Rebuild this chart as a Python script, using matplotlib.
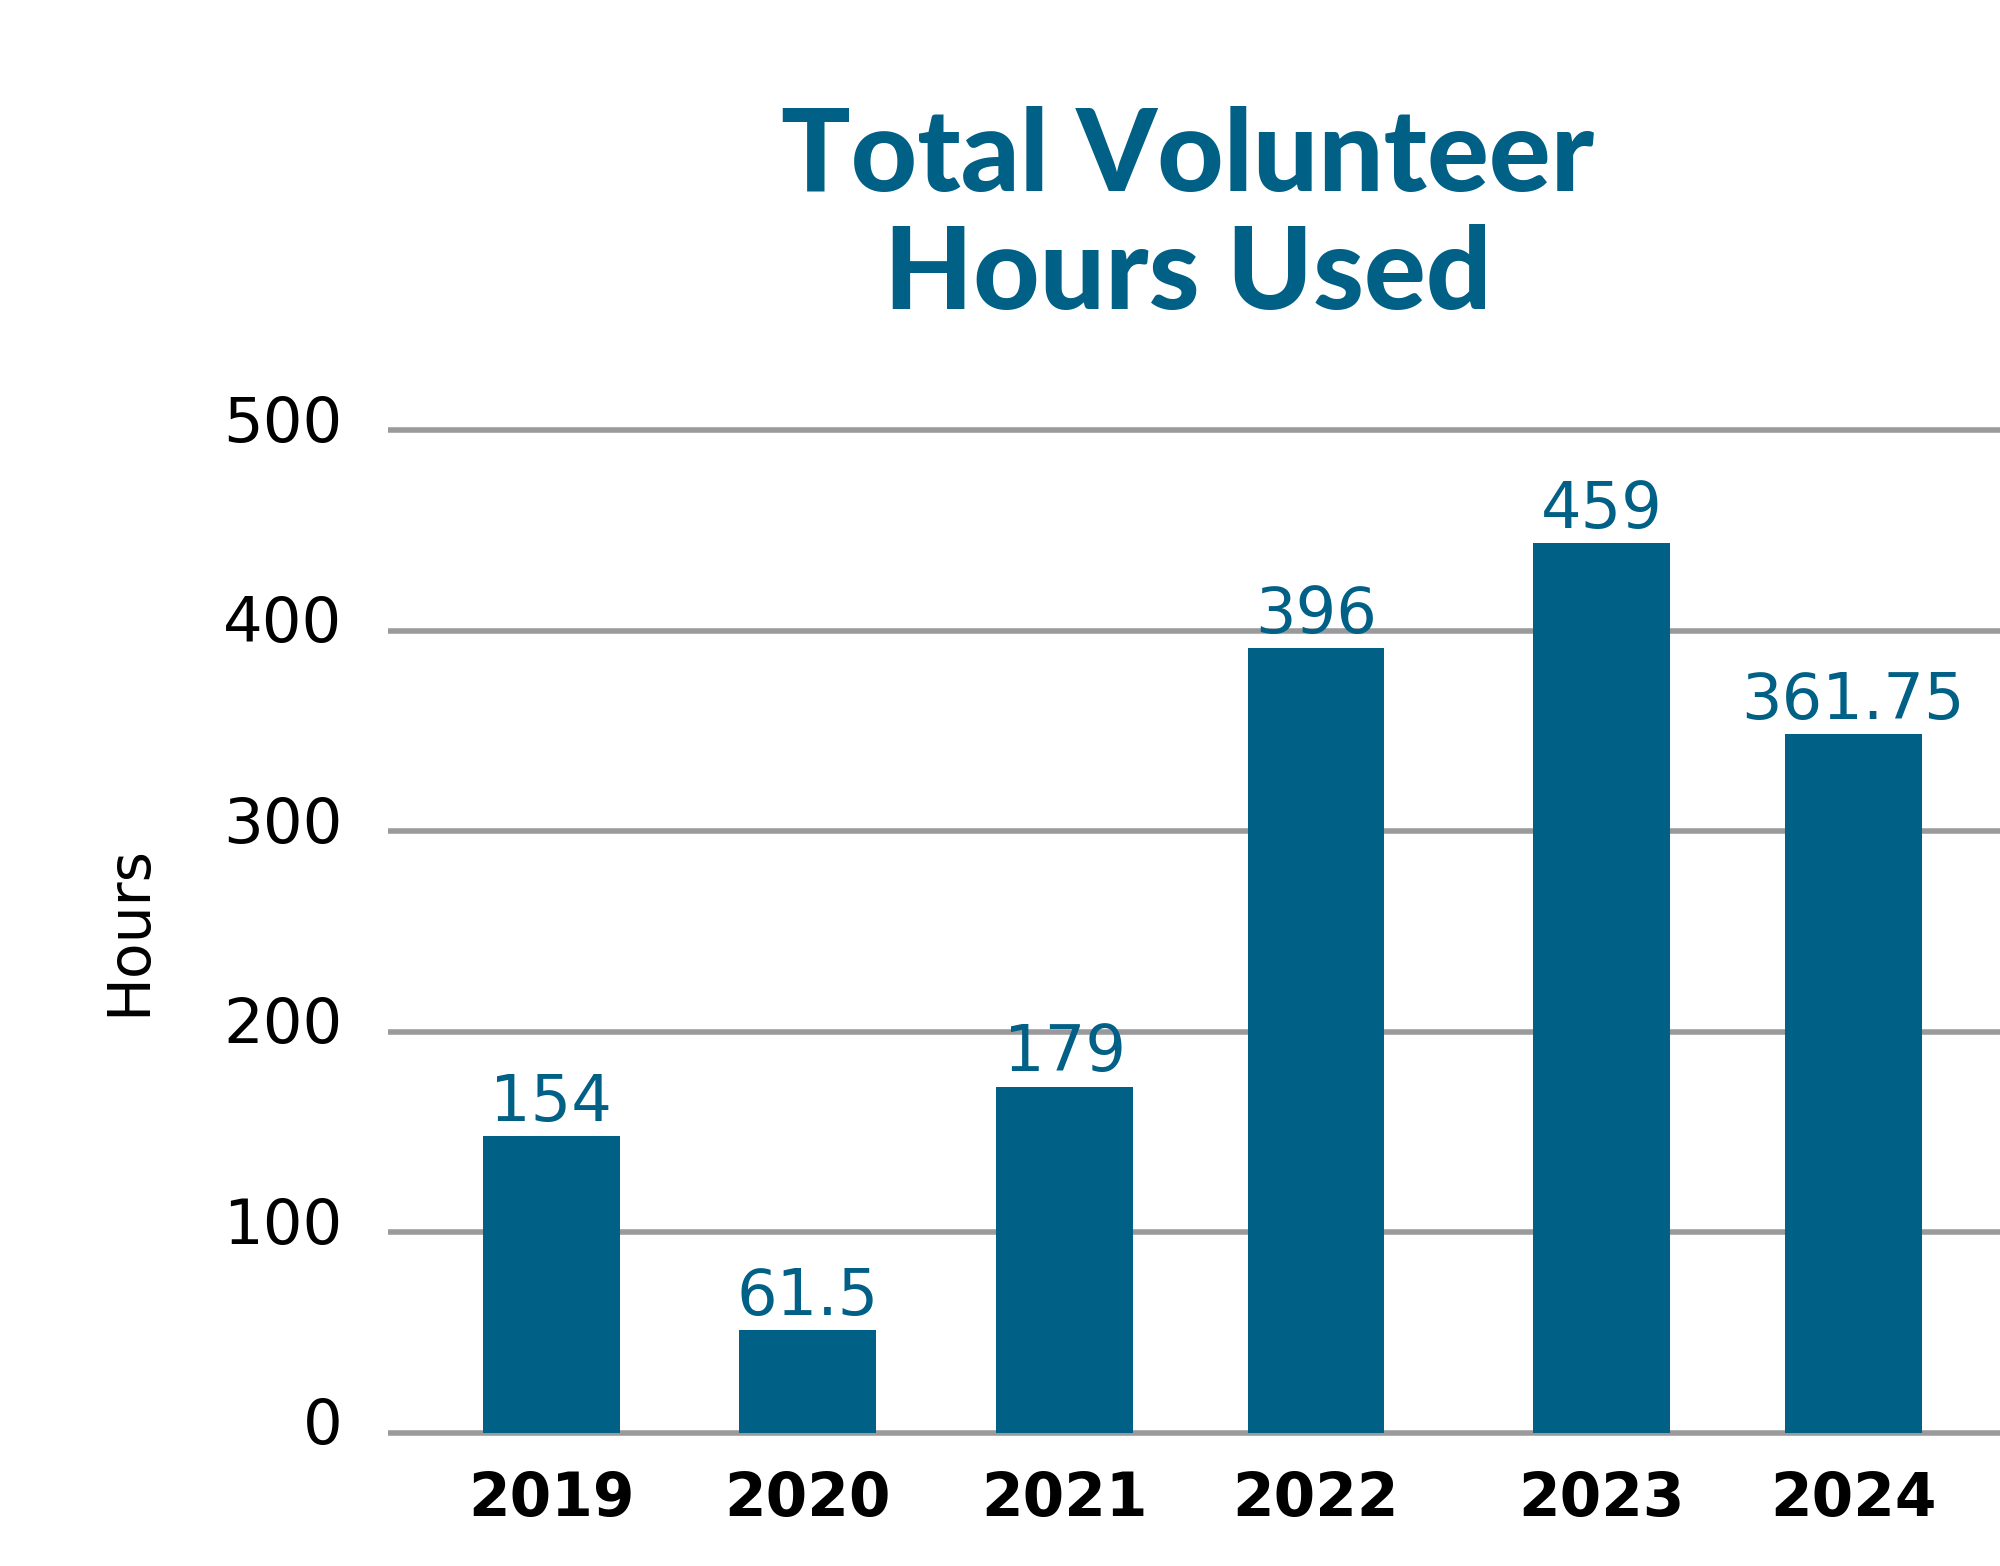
import matplotlib
matplotlib.use("Agg")
import matplotlib.pyplot as plt
from matplotlib.transforms import ScaledTranslation

# data
years = ['2019', '2020', '2021', '2022', '2023', '2024']
bar_hours = [147.8, 51.3, 172.6, 391.3, 443.7, 348.5]   # bar heights as drawn
value_labels = ['154', '61.5', '179', '396', '459', '361.75']
y_ticks = [0, 100, 200, 300, 400, 500]

# layout
x_pos = [0, 1.0, 2.006, 2.987, 4.104, 5.085]
bar_color = '#006085'
grid_color = '#9a9a9c'

plt.rcParams['font.family'] = ['DejaVu Sans']

fig = plt.figure(figsize=(20, 15.66), dpi=100)
ax = fig.add_axes([0.194, 0.0722, 0.806, 0.666])

ax.bar(x_pos, bar_hours, width=0.535, color=bar_color, zorder=3)

for x, h, lab in zip(x_pos, bar_hours, value_labels):
    ax.annotate(lab, (x, h), xytext=(0, 11), textcoords='offset points',
                ha='center', va='baseline', fontsize=46, color=bar_color)

for t in y_ticks:
    ax.axhline(t, color=grid_color, linewidth=4, zorder=1)

ax.set_xlim(-0.638, 5.659)
ax.set_ylim(-10, 510)
ax.set_yticks(y_ticks)
ax.set_yticklabels([str(t) for t in y_ticks], fontsize=45)
ax.set_xticks(x_pos)
ax.set_xticklabels(years, fontsize=43, fontweight='bold')
ax.tick_params(axis='y', length=0, pad=33)
ax.tick_params(axis='x', length=0, pad=12)
for s in ax.spines.values():
    s.set_visible(False)

# y tick labels sit a little above their grid lines
lift = ScaledTranslation(0, 0.12, fig.dpi_scale_trans)
for lbl in ax.get_yticklabels():
    lbl.set_transform(lbl.get_transform() + lift)

fig.text(0.0645, 0.406, 'Hours', rotation=90, ha='center', va='center',
         fontsize=42)

title_font = ['Lato', 'DejaVu Sans']
fig.text(0.594, 0.878, 'Total Volunteer', ha='center', va='baseline',
         fontsize=83, fontweight='black', color=bar_color, family=title_font)
fig.text(0.594, 0.803, 'Hours Used', ha='center', va='baseline',
         fontsize=83, fontweight='black', color=bar_color, family=title_font)

fig.savefig('out.png', dpi=100)
